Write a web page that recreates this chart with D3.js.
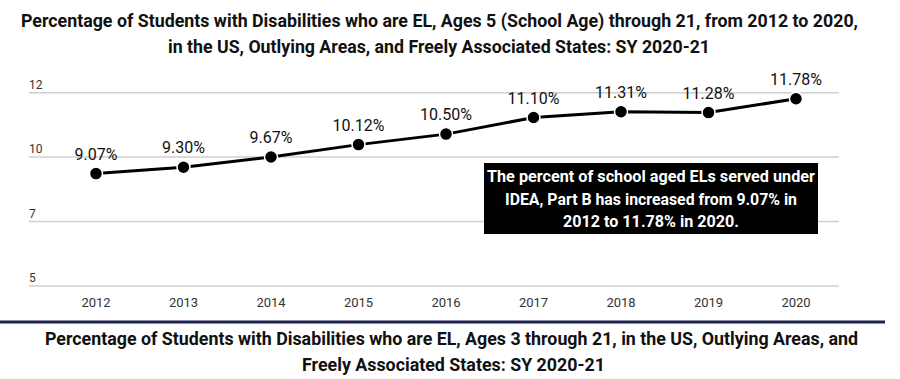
<!DOCTYPE html>
<html><head><meta charset="utf-8">
<script src="https://cdn.jsdelivr.net/npm/d3@7"></script>
<style>body{margin:0;background:#fff}svg{display:block;font-family:Roboto,"Noto Sans",sans-serif}</style>
</head><body>
<svg id="c" width="900" height="379"></svg>
<script>
const years = ["2012","2013","2014","2015","2016","2017","2018","2019","2020"];
const percents = [9.07, 9.30, 9.67, 10.12, 10.50, 11.10, 11.31, 11.28, 11.78];
const yTickValues = [5, 7.333, 9.667, 12];
const yTickLabels = ["5", "7", "10", "12"];
const titleLines = ["Percentage of Students with Disabilities who are EL, Ages 5 (School Age) through 21, from 2012 to 2020,",
  "in the US, Outlying Areas, and Freely Associated States: SY 2020-21"];
const bottomTitleLines = ["Percentage of Students with Disabilities who are EL, Ages 3 through 21, in the US, Outlying Areas, and",
  "Freely Associated States: SY 2020-21"];
const noteLines = ["The percent of school aged ELs served under", "IDEA, Part B has increased from 9.07% in", "2012 to 11.78% in 2020."];

const svg = d3.select("#c");
const x = d3.scalePoint().domain(years).range([96, 796]);
const y = d3.scaleLinear().domain([5, 12]).range([286, 92.7]);
const gridX0 = 29, gridX1 = 839;

// titles
const tW = [837, 542], tX = [439.5, 439];
svg.append("g").selectAll("text").data(titleLines).join("text")
  .attr("x", (d,i)=>tX[i]).attr("y", (d,i)=>[27,53][i]).attr("text-anchor","middle")
  .attr("font-size",18).attr("font-weight",700).attr("fill","#111")
  .attr("textLength",(d,i)=>tW[i]).attr("lengthAdjust","spacingAndGlyphs").text(d=>d);

// gridlines
svg.append("g").selectAll("line").data(yTickValues).join("line")
  .attr("x1",gridX0).attr("x2",gridX1).attr("y1",d=>y(d)).attr("y2",d=>y(d))
  .attr("stroke","#cfcfcf").attr("stroke-width",1.5);
svg.append("g").selectAll("text").data(yTickValues).join("text")
  .attr("x",gridX0).attr("y",d=>y(d)-4).attr("font-size",12).attr("fill","#333")
  .text((d,i)=>yTickLabels[i]);

// x labels
svg.append("g").selectAll("text").data(years).join("text")
  .attr("x",d=>x(d)).attr("y",307).attr("text-anchor","middle").attr("font-size",13).attr("fill","#333")
  .text(d=>d);

// line
const line = d3.line().x((d,i)=>x(years[i])).y(d=>y(d));
svg.append("path").datum(percents).attr("d",line).attr("fill","none").attr("stroke","#000").attr("stroke-width",3);
svg.append("g").selectAll("circle").data(percents).join("circle")
  .attr("cx",(d,i)=>x(years[i])).attr("cy",d=>y(d)).attr("r",6.5).attr("fill","#000")
  .attr("stroke","#fff").attr("stroke-width",1.5);
svg.append("g").selectAll("text").data(percents).join("text")
  .attr("x",(d,i)=>x(years[i])).attr("y",d=>y(d)-14).attr("text-anchor","middle")
  .attr("font-size",16).attr("fill","#111").text(d=>d.toFixed(2)+"%");

// annotation
svg.append("rect").attr("x",484).attr("y",163).attr("width",334).attr("height",71).attr("fill","#000");
const nW = [328, 292, 176];
svg.append("g").selectAll("text").data(noteLines).join("text")
  .attr("x",651).attr("y",(d,i)=>182+i*22.5).attr("text-anchor","middle")
  .attr("font-size",16).attr("font-weight",700).attr("fill","#fff")
  .attr("textLength",(d,i)=>nW[i]).attr("lengthAdjust","spacingAndGlyphs").text(d=>d);

// separator
svg.append("line").attr("x1",0).attr("x2",885).attr("y1",322).attr("y2",322).attr("stroke","#1b2150").attr("stroke-width",3);

// bottom title
const bW = [813, 303], bX = [451.5, 453.5];
svg.append("g").selectAll("text").data(bottomTitleLines).join("text")
  .attr("x",(d,i)=>bX[i]).attr("y",(d,i)=>[344.5,371][i]).attr("text-anchor","middle")
  .attr("font-size",18).attr("font-weight",700).attr("fill","#111")
  .attr("textLength",(d,i)=>bW[i]).attr("lengthAdjust","spacingAndGlyphs").text(d=>d);
</script>
</body></html>
